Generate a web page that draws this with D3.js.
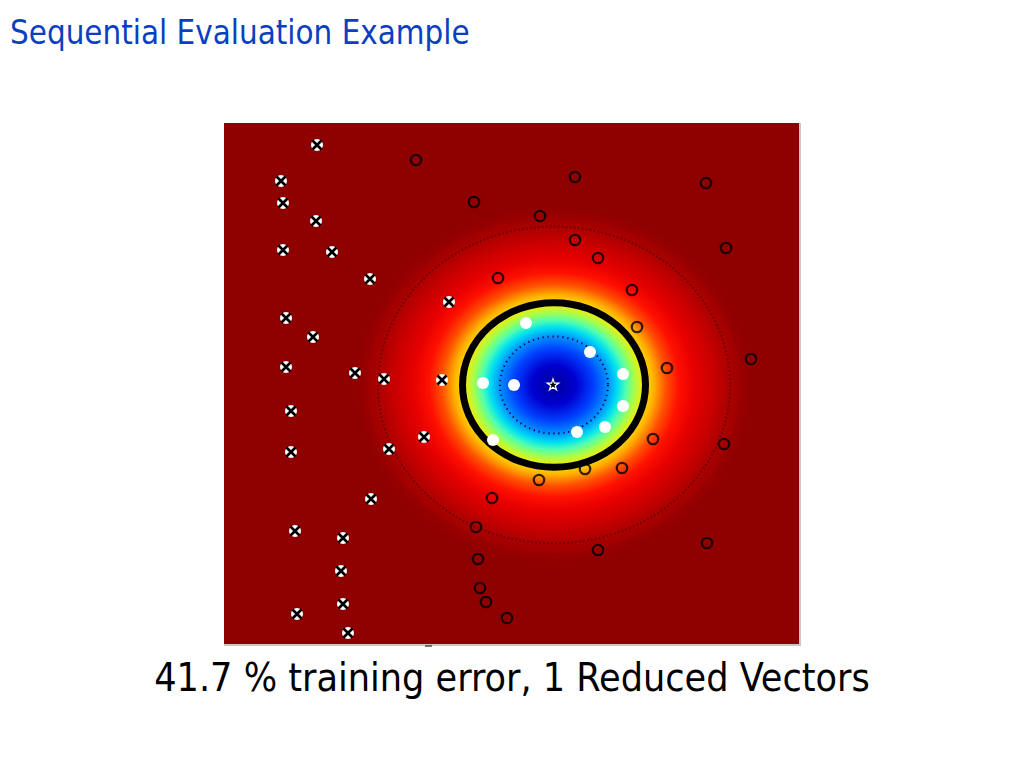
<!DOCTYPE html>
<html>
<head>
<meta charset="utf-8">
<script src="https://cdn.jsdelivr.net/npm/d3@7"></script>
<style>
  html, body { margin: 0; padding: 0; background: #fff; }
  svg { display: block; }
</style>
</head>
<body>
<script>
// all positions are in plot units, origin at the top left of the image panel
const crossPoints = [
  [93,22],[57,58],[59,80],[92,98],[59,127],[108,129],[146,156],[225,179],[62,195],[89,214],
  [62,244],[131,250],[160,256],[218,257],[67,288],[200,314],[165,326],[67,329],[147,376],
  [71,408],[119,415],[117,448],[119,481],[73,491],[124,510]
];
const circlePoints = [
  [192,37],[351,54],[482,60],[250,79],[316,93],[351,117],[502,125],[374,135],[274,155],[408,167],
  [413,204],[527,236],[443,245],[429,316],[500,321],[398,345],[361,346],[315,357],[268,375],
  [252,404],[374,427],[483,420],[254,436],[256,465],[262,479],[283,495]
];
const whitePoints = [
  [302,200],[366,229],[399,251],[259,260],[290,262],[399,283],[381,304],[353,309],[269,317]
];
const starPoint = [329,262];
const fieldCenter = [330,262];

// colour of the decision field going out from the centre (radius in plot units, colour)
const fieldRadius = [0,22,40,54,64,72,80,90,100,112,125,140,160,178,186,187,200];
const fieldColor = ["#00009a","#0000d0","#0040ff","#0090ff","#00e0f0","#50ffb0","#a0ff50","#ffe800","#ffb000","#ff5000","#ff1000","#e80000","#c80000","#a80000","#a00000","#980000","#8f0000"];
const yRatio = 0.9;

// level curves: radius along x
const ringInner = 54;
const ringMain = 91.5;
const ringOuter = 176;

const x = d3.scaleLinear().domain([0, 576]).range([224, 800]);
const y = d3.scaleLinear().domain([0, 522]).range([123, 645]);
const rx = d3.scaleLinear().domain([0, 576]).range([0, 576]);

const svg = d3.select("body").append("svg")
  .attr("width", 1024)
  .attr("height", 768);

svg.append("text")
  .attr("x", 10)
  .attr("y", 44)
  .attr("font-family", "'DejaVu Sans Condensed', 'DejaVu Sans'")
  .attr("font-size", 32.8)
  .attr("fill", "#0b3fc1")
  .text("Sequential Evaluation Example");

const defs = svg.append("defs");
const grad = defs.append("radialGradient").attr("id", "field");
const maxR = d3.max(fieldRadius);
grad.selectAll("stop")
  .data(fieldRadius)
  .enter()
  .append("stop")
  .attr("offset", d => d / maxR)
  .attr("stop-color", (d, i) => fieldColor[i]);

svg.append("rect")
  .attr("x", x(0))
  .attr("y", y(0))
  .attr("width", x(576) - x(0))
  .attr("height", y(522) - y(0))
  .attr("fill", "#8f0000");

svg.append("ellipse")
  .attr("cx", x(fieldCenter[0]))
  .attr("cy", y(fieldCenter[1]))
  .attr("rx", rx(maxR))
  .attr("ry", rx(maxR) * yRatio)
  .attr("fill", "url(#field)");

// light frame on the bottom and right
svg.append("path")
  .attr("d", `M${x(0)},${y(522)}H${x(576)}V${y(0)}`)
  .attr("fill", "none")
  .attr("stroke", "#c8c8c8")
  .attr("stroke-width", 2);
svg.append("line")
  .attr("x1", 425).attr("x2", 432)
  .attr("y1", 646).attr("y2", 646)
  .attr("stroke", "#000");

function ring(r, width, dash, color) {
  svg.append("ellipse")
    .attr("cx", x(fieldCenter[0]))
    .attr("cy", y(fieldCenter[1]))
    .attr("rx", rx(r))
    .attr("ry", rx(r) * yRatio)
    .attr("fill", "none")
    .attr("stroke", color)
    .attr("stroke-width", width)
    .attr("stroke-dasharray", dash);
}
ring(ringOuter, 2, "1.5 2.5", "#6a0000");
ring(ringInner, 2, "1.2 3.8", "#00003a");
ring(ringMain, 7, null, "#000");

// support vectors
svg.append("g").selectAll("circle")
  .data(whitePoints)
  .enter()
  .append("circle")
  .attr("cx", d => x(d[0]))
  .attr("cy", d => y(d[1]))
  .attr("r", 6)
  .attr("fill", "#fff");

svg.append("g").selectAll("circle")
  .data(circlePoints)
  .enter()
  .append("circle")
  .attr("cx", d => x(d[0]))
  .attr("cy", d => y(d[1]))
  .attr("r", 5.2)
  .attr("fill", "none")
  .attr("stroke", "#000")
  .attr("stroke-opacity", 0.8)
  .attr("stroke-width", 2.3);

const crosses = svg.append("g").selectAll("g")
  .data(crossPoints)
  .enter()
  .append("g")
  .attr("transform", d => `translate(${x(d[0])},${y(d[1])})`);
crosses.append("circle").attr("r", 6).attr("fill", "#fff");
crosses.append("path")
  .attr("d", "M-4.5,-4.5L4.5,4.5M-4.5,4.5L4.5,-4.5")
  .attr("stroke", "#000")
  .attr("stroke-width", 2.6);

svg.append("path")
  .attr("transform", `translate(${x(starPoint[0])},${y(starPoint[1])})`)
  .attr("d", d3.symbol().type(d3.symbolStar).size(42))
  .attr("fill", "#000")
  .attr("stroke", "#fff")
  .attr("stroke-width", 1.2);

svg.append("text")
  .attr("x", 512)
  .attr("y", 691)
  .attr("text-anchor", "middle")
  .attr("font-family", "'DejaVu Sans Condensed', 'DejaVu Sans'")
  .attr("font-size", 39.1)
  .attr("fill", "#000")
  .text("41.7 % training error, 1 Reduced Vectors");
</script>
</body>
</html>
